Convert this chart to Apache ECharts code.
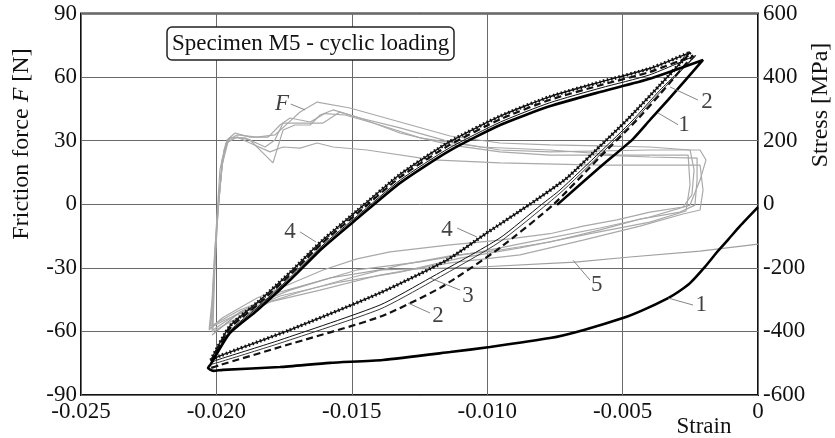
<!DOCTYPE html>
<html><head><meta charset="utf-8">
<script src="https://cdn.jsdelivr.net/npm/echarts@6/dist/echarts.min.js"></script>
<style>html,body{margin:0;padding:0;background:#fff}#c{width:835px;height:438px}</style>
</head><body><div id="c"></div>
<script>
// ---- axis ranges / ticks ----
const strainRange = [-0.025, 0, 0.005];
const forceRange = [-90, 90, 30];
const stressRange = [-600, 600, 200];

// ---- stress-strain curves [strain, stress MPa] ----
const curve1 = [[0,-9],[-0.00066,-68],[-0.00111,-112],[-0.00148,-147],[-0.00196,-197],[-0.00251,-248],[-0.00295,-276],[-0.00332,-295],[-0.00425,-333],[-0.00499,-358],[-0.00646,-396],[-0.00768,-421],[-0.0099,-449],[-0.01137,-465],[-0.01385,-490],[-0.01581,-499],[-0.01765,-512],[-0.01976,-521],[-0.02012,-524],[-0.02031,-515],[-0.0202,-502],[-0.0195,-405],[-0.0185,-334],[-0.0173,-240],[-0.0161,-139],[-0.0148,-45],[-0.0132,68],[-0.0114,168],[-0.0095,250],[-0.0077,308],[-0.0058,354],[-0.0040,395],[-0.00203,454],[-0.00332,328],[-0.00399,265],[-0.00462,205],[-0.00583,117],[-0.00742,-2]];
const curve2 = [[-0.0202,-494],[-0.0195,-390],[-0.0185,-318],[-0.0173,-224],[-0.0161,-123],[-0.0148,-29],[-0.0132,86],[-0.0114,186],[-0.0095,268],[-0.0077,328],[-0.0058,375],[-0.0040,416],[-0.0024,468],[-0.00362,346],[-0.00447,265],[-0.00583,149],[-0.00757,-2],[-0.00953,-137],[-0.01174,-263],[-0.01396,-354],[-0.01765,-449],[-0.01987,-506],[-0.0202,-515]];
const curve3 = [[-0.0202,-497],[-0.0195,-398],[-0.0185,-326],[-0.0173,-232],[-0.0161,-131],[-0.0148,-37],[-0.0132,77],[-0.0114,177],[-0.0095,259],[-0.0077,319],[-0.0058,366],[-0.0040,407],[-0.0023,468],[-0.00362,359],[-0.00465,262],[-0.00583,164],[-0.00731,45],[-0.00801,-2],[-0.00953,-106],[-0.01211,-232],[-0.01396,-317],[-0.01765,-427],[-0.01987,-487],[-0.02016,-496]];
const curve3b = [[-0.0023,466],[-0.00362,352],[-0.00465,255],[-0.00583,156],[-0.00731,35],[-0.00953,-118],[-0.01211,-246],[-0.01396,-330],[-0.01765,-437],[-0.01987,-496],[-0.02016,-503]];
const curve4 = [[-0.0202,-490],[-0.0195,-383],[-0.0185,-310],[-0.0173,-216],[-0.0161,-115],[-0.0148,-20],[-0.0132,95],[-0.0114,196],[-0.0095,278],[-0.0077,338],[-0.0058,385],[-0.0040,427],[-0.0025,478],[-0.00362,375],[-0.00484,265],[-0.00583,183],[-0.00705,83],[-0.00846,-2],[-0.01001,-90],[-0.01148,-175],[-0.01396,-279],[-0.01728,-395],[-0.01987,-477],[-0.02016,-490]];

// ---- friction force curves [strain, F N] ----
const curve5 = [[-0.02016,-61.7],[-0.01913,-50.8],[-0.01765,-41.4],[-0.01581,-34.8],[-0.01396,-31.0],[-0.01027,-29.6],[-0.00676,-27.3],[-0.00473,-24.9],[-0.00214,-22.1],[0,-18.8]];
const fLoopA = [[-0.02027,-59.3],[-0.01979,-53.7],[-0.0185,-44.2],[-0.01728,-37.6],[-0.01606,-31.0],[-0.01481,-25.8],[-0.01359,-22.5],[-0.01137,-19.2],[-0.00953,-16.9],[-0.00768,-13.9],[-0.00646,-10.3],[-0.00521,-7.4],[-0.00399,-3.7],[-0.00277,-1.3],[-0.00244,4.4],[-0.00236,16.2],[-0.00251,25.6],[-0.00399,27.0],[-0.00583,27.5],[-0.00768,28.0],[-0.00953,28.9],[-0.01137,32.2],[-0.01322,38.8],[-0.01507,45.4],[-0.01628,48.2],[-0.01691,43.5],[-0.01736,38.3],[-0.01784,32.7],[-0.0185,31.7],[-0.01924,32.7],[-0.01957,30.3],[-0.01979,20.9],[-0.0199,2.0],[-0.02006,-21.6],[-0.02016,-45.2],[-0.02027,-59.3]];
const fLoopB = [[-0.02024,-58.4],[-0.01968,-54.6],[-0.01839,-47.5],[-0.01691,-41.4],[-0.01507,-34.8],[-0.01322,-28.7],[-0.01137,-24.4],[-0.00953,-21.6],[-0.00768,-17.8],[-0.00583,-12.1],[-0.00436,-7.0],[-0.00288,-3.7],[-0.00233,-0.4],[-0.00225,11.4],[-0.00225,21.8],[-0.00399,22.3],[-0.00583,23.2],[-0.00768,23.2],[-0.00953,24.7],[-0.01137,28.0],[-0.01322,33.6],[-0.0147,40.7],[-0.01544,43.5],[-0.01606,38.3],[-0.01691,38.3],[-0.01754,38.3],[-0.01784,30.3],[-0.0182,27.0],[-0.01894,31.3],[-0.0195,31.3],[-0.01972,25.6],[-0.0199,4.4],[-0.02006,-26.3],[-0.02016,-49.9],[-0.02024,-58.4]];
const fLoopC = [[-0.02016,-60.3],[-0.0195,-55.6],[-0.01802,-46.1],[-0.01617,-40.5],[-0.01396,-33.4],[-0.01137,-27.7],[-0.00879,-23.9],[-0.00646,-16.9],[-0.00436,-10.3],[-0.00277,-4.6],[-0.00214,-2.7],[-0.00203,6.7],[-0.00214,18.5],[-0.00399,18.5],[-0.00583,18.5],[-0.00953,19.5],[-0.012,20.9],[-0.01444,25.6],[-0.01569,27.0],[-0.01628,28.9],[-0.01691,26.5],[-0.01754,27.0],[-0.01802,24.7],[-0.01876,28.9],[-0.01924,31.7],[-0.01957,29.4],[-0.01979,18.5],[-0.01998,-7.4],[-0.02009,-35.7],[-0.02016,-60.3]];
const fLoopD = [[-0.0202,-57.4],[-0.01913,-49.9],[-0.01728,-40.5],[-0.01481,-31.0],[-0.01248,-27.2],[-0.01027,-22.5],[-0.00768,-15.9],[-0.00583,-11.2],[-0.00399,-6.0],[-0.00251,-0.4],[-0.00214,11.4],[-0.00192,20.9],[-0.00214,25.6],[-0.00399,25.6],[-0.00768,24.7],[-0.00953,25.6],[-0.01137,29.4],[-0.01322,36.0],[-0.0147,40.7],[-0.01569,44.5],[-0.01617,42.1],[-0.01654,37.4],[-0.0171,37.4],[-0.01754,35.0],[-0.01791,19.5],[-0.0182,23.2],[-0.01876,30.3],[-0.01924,31.7],[-0.01965,28.9],[-0.01987,16.2],[-0.02001,-12.1],[-0.02013,-40.5],[-0.0202,-57.4]];
const fLoopE = [[-0.02013,-59.3],[-0.01931,-52.3],[-0.01765,-43.3],[-0.01544,-36.7],[-0.01322,-32.0],[-0.011,-25.4],[-0.00879,-20.6],[-0.0062,-13.9],[-0.00399,-8.4],[-0.00266,-3.2],[-0.00251,9.1],[-0.00258,23.2],[-0.0051,23.2],[-0.00768,25.6],[-0.01027,27.0],[-0.01248,31.3],[-0.01396,37.4],[-0.01525,42.1],[-0.01599,42.8],[-0.01654,38.8],[-0.01728,40.7],[-0.01765,37.4],[-0.01809,31.7],[-0.01876,31.7],[-0.01931,33.6],[-0.01961,30.3],[-0.01976,21.8],[-0.01994,-2.7],[-0.02006,-31.0],[-0.02013,-59.3]];

// ---- curve labels (anchors in [strain, stress]) ----
const labelText = ['F','4','4','3','2','5','2','1','1'];
const labelAt = [[-0.01758,314],[-0.01728,-87],[-0.01148,-81],[-0.01071,-288],[-0.01182,-351],[-0.00595,-254],[-0.00188,321],[-0.00273,250],[-0.0021,-317]];
const leaderFrom = [[-0.01725,315],[-0.01691,-87],[-0.01111,-75],[-0.011,-270],[-0.01211,-342],[-0.0062,-239],[-0.00222,328],[-0.00295,250],[-0.0024,-317]];
const leaderTo = [[-0.01673,297],[-0.01632,-119],[-0.01038,-103],[-0.01211,-232],[-0.01292,-311],[-0.00683,-176],[-0.00325,369],[-0.00369,287],[-0.00332,-295]];

const FONT = 'Liberation Serif';
const FS = 23;
const chart = echarts.init(document.getElementById('c'), null, {renderer:'canvas'});

function ln(name, data, axis, style, z, smooth) {
  return {type:'line', name, data, yAxisIndex:axis, symbol:'none', showSymbol:false,
    smooth: smooth === undefined ? 0 : smooth, lineStyle:style, z:z, silent:true, animation:false};
}
const gray = {color:'#a9a9a9', width:1.2};
const series = [
  ln('F-a', fLoopA, 0, gray, 2), ln('F-b', fLoopB, 0, gray, 2), ln('F-c', fLoopC, 0, gray, 2),
  ln('F-d', fLoopD, 0, gray, 2), ln('F-e', fLoopE, 0, gray, 2),
  ln('5', curve5, 0, {color:'#a0a0a0', width:1.2}, 2),
  ln('3', curve3, 1, {color:'#111', width:1}, 4, 0.2),
  ln('3b', curve3b, 1, {color:'#222', width:0.9}, 4, 0.2),
  ln('2', curve2, 1, {color:'#111', width:2.2, type:[7,4]}, 5, 0.2),
  ln('4', curve4, 1, {color:'#111', width:1.4}, 5, 0.2),
  ln('4dots', curve4, 1, {color:'#111', width:3.6, type:[1.5,2.5]}, 5, 0.2),
  ln('1', curve1, 1, {color:'#000', width:2.6}, 6, 0.2)
];
labelText.forEach((t, i) => {
  series.push(ln('leader' + i, [leaderFrom[i], leaderTo[i]], 1, {color:'#777', width:0.9}, 7));
});
series.push({
  type:'scatter', yAxisIndex:1, symbolSize:0, silent:true, z:8,
  data: labelText.map((t, i) => ({value:[labelAt[i][0], labelAt[i][1], t],
    label: t === 'F' ? {fontStyle:'italic'} : {}})),
  label:{show:true, position:'inside', formatter:p => p.value[2], fontFamily:FONT, fontSize:FS, color:'#111'}
});

chart.setOption({
  animation:false,
  backgroundColor:'#fff',
  title:{text:'Specimen M5 - cyclic loading', left:167, top:27, padding:[4,5,4,5],
    borderColor:'#222', borderWidth:1.5, borderRadius:5, backgroundColor:'#fff',
    textStyle:{fontFamily:FONT, fontSize:FS, fontWeight:'normal', color:'#111', lineHeight:25}},
  grid:{left:81, right:77, top:13.5, bottom:43, show:true, borderColor:'#111', borderWidth:2, backgroundColor:'transparent'},
  xAxis:{type:'value', min:strainRange[0], max:strainRange[1], interval:strainRange[2],
    axisLine:{show:false}, axisTick:{show:false},
    splitLine:{show:true, lineStyle:{color:'#6a6a6a', width:1}},
    axisLabel:{margin:5, fontFamily:FONT, fontSize:FS, color:'#111',
      formatter:v => Math.abs(v) < 1e-9 ? '0' : v.toFixed(3)}},
  yAxis:[
    {type:'value', position:'left', min:forceRange[0], max:forceRange[1], interval:forceRange[2],
      axisLine:{show:false}, axisTick:{show:false},
      splitLine:{show:true, lineStyle:{color:'#6a6a6a', width:1}},
      axisLabel:{margin:4, fontFamily:FONT, fontSize:FS, color:'#111'}},
    {type:'value', position:'right', min:stressRange[0], max:stressRange[1], interval:stressRange[2],
      axisLine:{show:false}, axisTick:{show:false}, splitLine:{show:false},
      axisLabel:{margin:5, fontFamily:FONT, fontSize:FS, color:'#111'}}
  ],
  graphic:[
    {type:'text', x:22, y:144, rotation:Math.PI/2, z:10,
      style:{text:'Friction force {i|F} [N]', align:'center', verticalAlign:'middle',
        fontFamily:FONT, fontSize:24, fill:'#111',
        rich:{i:{fontStyle:'italic', fontFamily:FONT, fontSize:24, fill:'#111'}}}},
    {type:'text', x:821, y:105, rotation:Math.PI/2, z:10,
      style:{text:'Stress [MPa]', align:'center', verticalAlign:'middle', fontFamily:FONT, fontSize:24, fill:'#111'}},
    {type:'text', x:704, y:427, z:10,
      style:{text:'Strain', align:'center', verticalAlign:'middle', fontFamily:FONT, fontSize:FS, fill:'#111'}}
  ],
  series
});
</script></body></html>
